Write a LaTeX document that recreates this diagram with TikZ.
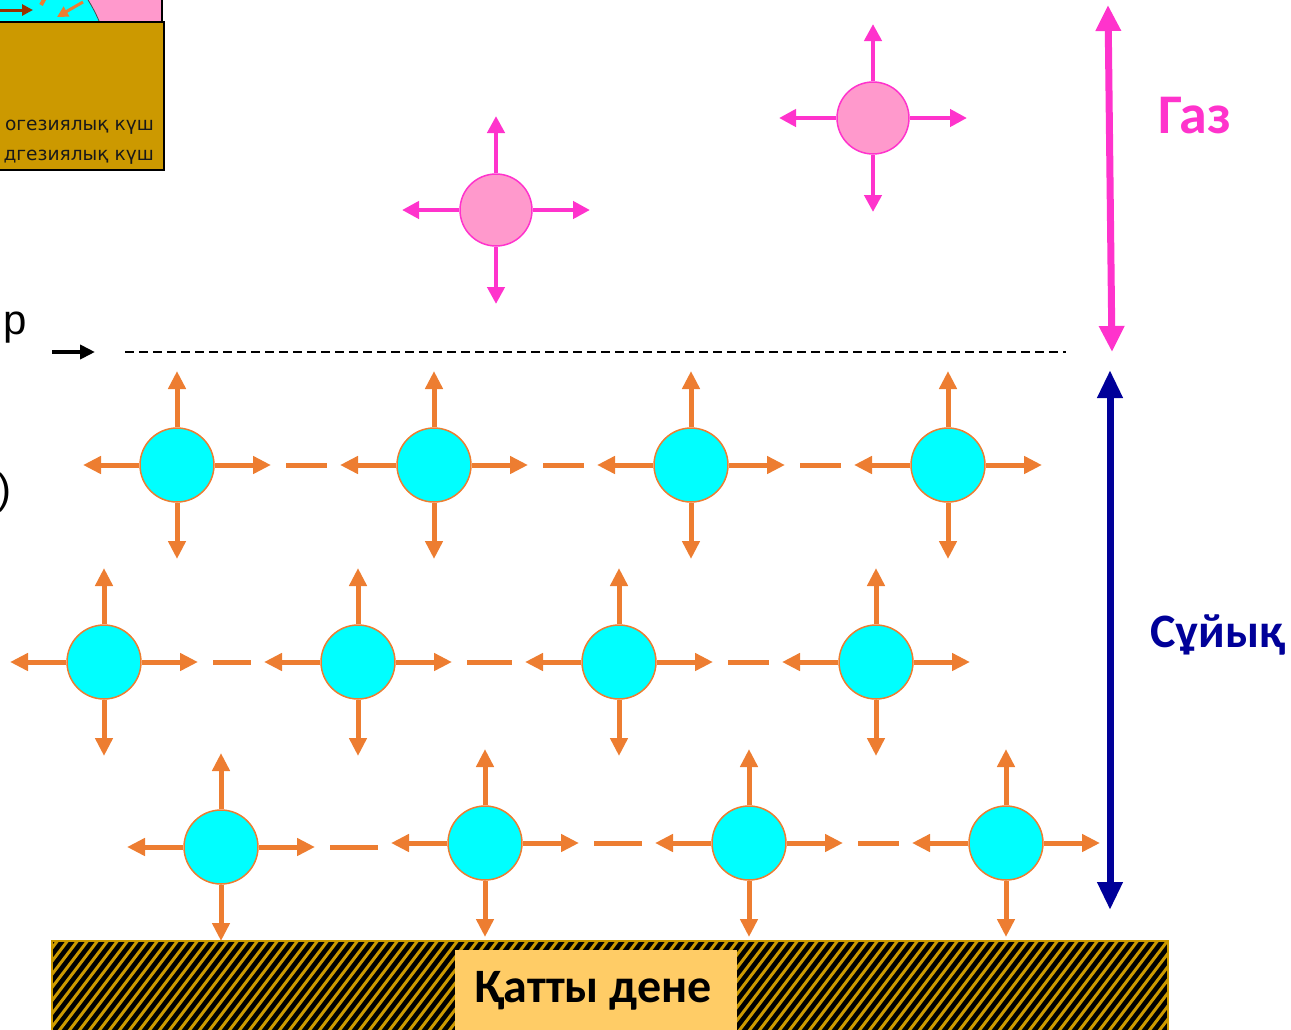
\documentclass[tikz,border=0pt]{standalone}
\usepackage{fontspec}
\setmainfont{Carlito}
\newfontfamily\insetfont{DejaVu Sans}
\newfontfamily\slidefont{Liberation Sans}
\usetikzlibrary{arrows.meta}

\definecolor{liqfill}{HTML}{00FFFF}
\definecolor{bondorange}{HTML}{ED7D31}
\definecolor{gasfill}{HTML}{FF99CC}
\definecolor{gasline}{HTML}{FF33CC}
\definecolor{liqnavy}{HTML}{000099}
\definecolor{solidgold}{HTML}{CC9900}
\definecolor{labelbg}{HTML}{FFCC66}
\definecolor{cohbrown}{HTML}{993300}

% four outward force arrows around a molecule node
\newcommand\radiate[2]{%
  \path (#1.center) ++(0,-94) coordinate (#1u)
        (#1.center) ++(0,94)  coordinate (#1d)
        (#1.center) ++(-94,0) coordinate (#1l)
        (#1.center) ++(94,0)  coordinate (#1r);
  \draw[#2] (#1.north) -- (#1u);
  \draw[#2] (#1.south) -- (#1d);
  \draw[#2] (#1.west)  -- (#1l);
  \draw[#2] (#1.east)  -- (#1r);
}

\tikzset{
  liq/.style={circle, fill=liqfill, draw=bondorange, line width=1.5pt, minimum size=74pt, inner sep=0pt},
  gasmol/.style={circle, fill=gasfill, draw=gasline, line width=1.5pt, minimum size=72pt, inner sep=0pt},
  oarr/.style={draw=bondorange, line width=5pt, -{Triangle[length=18pt,width=17pt]}},
  parr/.style={draw=gasline, line width=4.5pt, -{Triangle[length=17pt,width=17pt]}},
  bond/.style={draw=bondorange, line width=5pt, shorten <=15pt, shorten >=13pt},
  phase/.style={inner sep=0pt},
  insettext/.style={anchor=east, inner sep=0pt, font=\insetfont\fontsize{18.6}{21}\selectfont, text=black!90},
}

\begin{document}
\begin{tikzpicture}[x=1pt,y=-1pt]
\useasboundingbox (0,0) rectangle (1291,1029);

% ---- inset in the upper left corner ----
\begin{scope}
  \clip (0,0) rectangle (162,22);
  \fill[gasfill] (0,0) rectangle (162,22);
  \fill[liqfill] (-40,80) circle (151);
  \draw[black!70, line width=0.8pt] (-40,80) circle (151);
\end{scope}
\draw[black, line width=1.5pt] (162,0) -- (162,22);
\coordinate (cohA) at (0,10);
\coordinate (cohB) at (33,10);
\draw[cohbrown, line width=3pt, -{Triangle[length=11pt,width=11pt]}] (cohA) -- (cohB);
\coordinate (adhA) at (83,2);
\coordinate (adhB) at (57,17);
\draw[bondorange, line width=3pt, -{Triangle[length=11pt,width=11pt]}] (adhA) -- (adhB);
\coordinate (upA) at (41,5);
\coordinate (upB) at (46,-4);
\draw[bondorange, line width=4pt] (upA) -- (upB);
\draw[fill=solidgold, line width=2pt] (-5,22) rectangle (164,170);
\node[insettext] (coh) at (154,127) {огезиялық күш};
\node[insettext] (adh) at (154,157) {дгезиялық күш};

% ---- fragments of text on the left edge ----
\node[anchor=base west, inner sep=0pt, font=\slidefont\fontsize{42}{50}\selectfont] (frag1) at (3,334) {р};
\node[anchor=base east, inner sep=0pt, font=\slidefont\fontsize{42}{50}\selectfont] (frag2) at (12,503) {)};

% ---- surface marker and boundary line ----
\coordinate (markA) at (52,352);
\coordinate (markB) at (95,352);
\draw[black, line width=4pt, -{Triangle[length=15pt,width=14pt]}] (markA) -- (markB);
\coordinate (surfL) at (125,352);
\coordinate (surfR) at (1066,352);
\draw[black, line width=1.5pt, dash pattern=on 9pt off 5pt] (surfL) -- (surfR);

% ---- gas molecules ----
\node[gasmol] (g1) at (496,210) {};
\radiate{g1}{parr}
\node[gasmol] (g2) at (873,118) {};
\radiate{g2}{parr}

% ---- liquid molecules ----
\foreach \n/\x/\y in {a1/177/465, a2/434/465, a3/691/465, a4/948/465,
                      b1/104/662, b2/358/662, b3/619/662, b4/876/662,
                      c1/221/847, c2/485/843, c3/749/843, c4/1006/843}{
  \node[liq] (\n) at (\x,\y) {};
  \radiate{\n}{oarr}
}
% bonds: horizontal dash at the height of the left molecule
\foreach \p/\q in {a1/a2, a2/a3, a3/a4, b1/b2, b2/b3, b3/b4, c1/c2, c2/c3, c3/c4}{
  \draw[bond] (\p r) -- (\q l |- \p r);
}

% ---- solid body ----
\begin{scope}
  \clip (52,941) rectangle (1168,1035);
  \fill[black] (52,941) rectangle (1168,1035);
  \foreach \i in {-12,...,116}{
    \draw[solidgold, line width=3pt] (52+\i*10,1040) -- ++(80,-105);
  }
\end{scope}
\draw[solidgold, line width=2pt] (52,1035) -- (52,941) -- (1168,941) -- (1168,1035);
\fill[labelbg] (455,950) rectangle (737,1035);
\node[font=\bfseries\fontsize{48}{54}\selectfont, inner sep=0pt] (solid) at (593,991) {Қатты дене};

% ---- phase ranges ----
\coordinate (gasTop) at (1108,5);
\coordinate (gasBot) at (1112,352);
\draw[gasline, line width=7pt, {Triangle[length=26pt,width=24pt]}-{Triangle[length=26pt,width=24pt]}] (gasTop) -- (gasBot);
\node[phase, text=gasline, font=\bfseries\fontsize{56}{62}\selectfont] (gas) at (1195,116) {Газ};

\coordinate (liqTop) at (1110,370);
\coordinate (liqBot) at (1110,910);
\draw[liqnavy, line width=7pt, {Triangle[length=28pt,width=24pt]}-{Triangle[length=28pt,width=24pt]}] (liqTop) -- (liqBot);
\node[phase, text=liqnavy, font=\bfseries\fontsize{48}{54}\selectfont] (liquid) at (1218,635) {Сұйық};
\end{tikzpicture}
\end{document}
